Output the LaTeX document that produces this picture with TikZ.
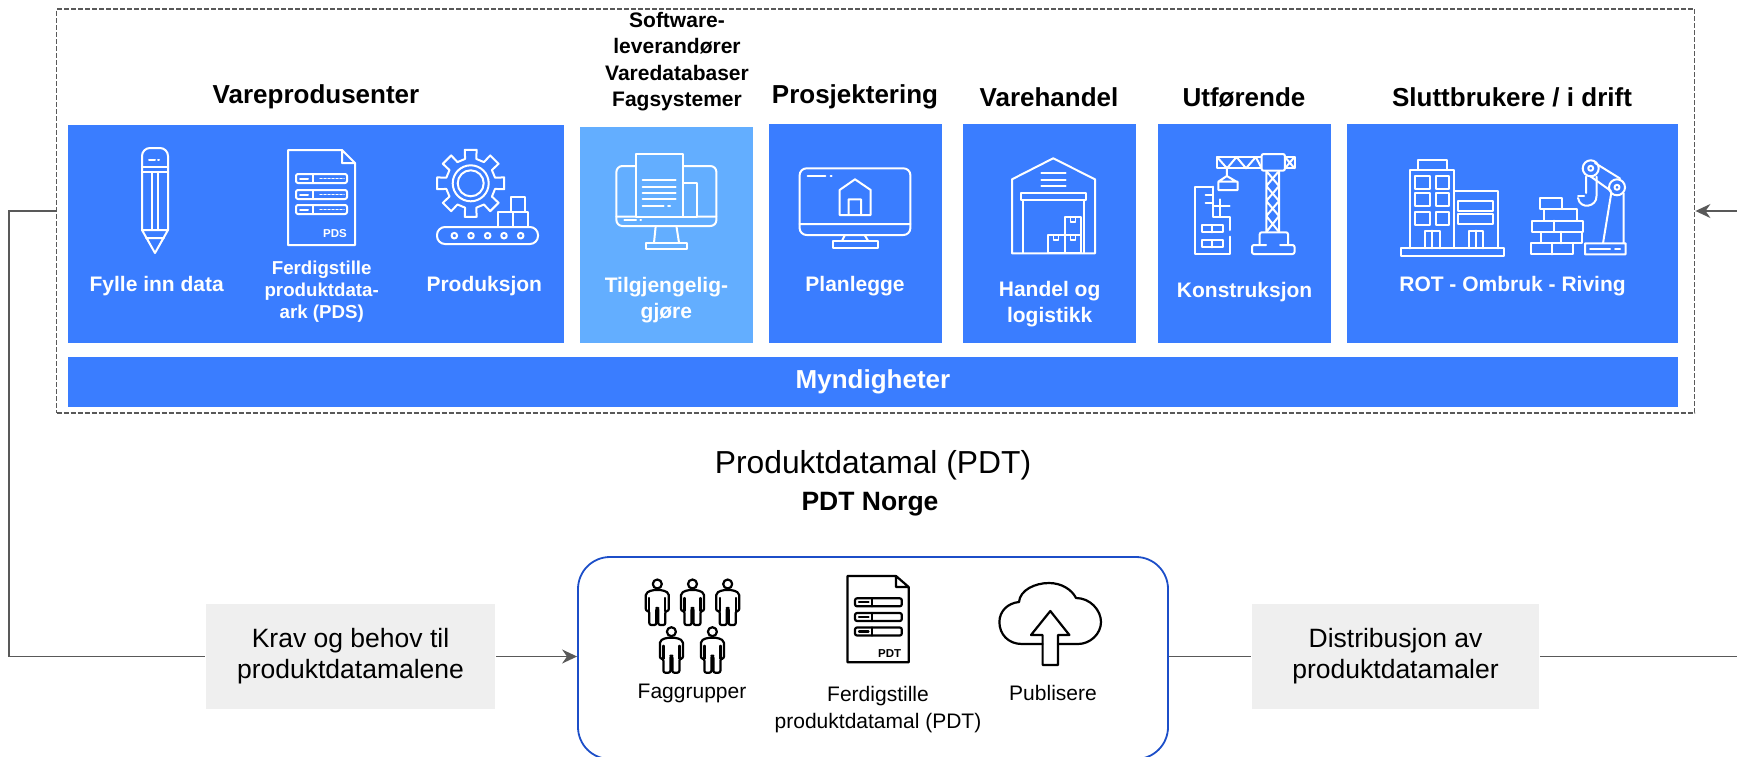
\documentclass[tikz,border=0pt]{standalone}
\usepackage{fontspec}
\setmainfont{Liberation Sans}
\usetikzlibrary{arrows.meta}
\definecolor{block_blue}{RGB}{58,125,255}
\definecolor{block_light}{RGB}{99,174,255}
\definecolor{frame_blue}{RGB}{28,78,200}
\definecolor{line_gray}{RGB}{89,89,89}
\definecolor{pale_gray}{RGB}{239,239,239}

\newcommand{\personicon}[2]{
  \draw[blackicon] (#1,#2) circle (4.5pt);
  \draw[blackicon,rounded corners=2pt] (#1-5,#2+6) -- (#1-11.5,#2+9) -- (#1-11.5,#2+27) -- (#1-8,#2+27) -- (#1-8,#2+41) -- (#1-1,#2+41) -- (#1-1,#2+24) -- (#1+1,#2+24) -- (#1+1,#2+41) -- (#1+8,#2+41) -- (#1+8,#2+27) -- (#1+11.5,#2+27) -- (#1+11.5,#2+9) -- (#1+5,#2+6) -- cycle;
  \draw[blackicon] (#1-8,#2+14) -- (#1-8,#2+27) (#1+8,#2+14) -- (#1+8,#2+27);
}

\begin{document}
\begin{tikzpicture}[x=1pt,y=-1pt,->,>={Stealth[length=15pt,width=14pt]},line width=1.6pt]
    \tikzstyle{block}=[draw=none, fill=block_blue, inner sep=0pt, text=white]
    \tikzstyle{title}=[font=\bfseries\fontsize{26}{30}\selectfont, text=black, inner sep=0pt]
    \tikzstyle{smalltitle}=[font=\bfseries\fontsize{21}{26.5}\selectfont, text=black, align=center, inner sep=0pt]
    \tikzstyle{inner}=[font=\bfseries\fontsize{21}{26}\selectfont, text=white, align=center, inner sep=0pt]
    \tikzstyle{innersmall}=[font=\bfseries\fontsize{18.7}{22.3}\selectfont, text=white, align=center, inner sep=0pt]
    \tikzstyle{pale}=[draw=none, fill=pale_gray, inner sep=0pt, font=\fontsize{26.5}{31}\selectfont, align=center, minimum height=105pt]
    \tikzstyle{plain}=[font=\fontsize{21}{27}\selectfont, align=center, inner sep=0pt]
    \tikzstyle{icon}=[-, draw=white, line width=2pt, line join=round, line cap=round]
    \tikzstyle{blackicon}=[-, draw=black, line width=2.2pt, line join=round, line cap=round]

    \useasboundingbox (0,0) rectangle (1737,756);

    \node[draw=line_gray, dash pattern=on 5pt off 2pt, line width=1.8pt, minimum width=1638pt, minimum height=404pt, inner sep=0pt] (dashbox) at (875.5,211) {};

    \node[block, minimum width=496pt, minimum height=218pt] (vare) at (316,234) {};
    \node[block, fill=block_light, minimum width=173pt, minimum height=216pt] (soft) at (666.5,235) {};
    \node[block, minimum width=173pt, minimum height=219pt] (pros) at (855.5,233.5) {};
    \node[block, minimum width=173pt, minimum height=219pt] (hand) at (1049.5,233.5) {};
    \node[block, minimum width=173pt, minimum height=219pt] (utfo) at (1244.5,233.5) {};
    \node[block, minimum width=331pt, minimum height=219pt] (slutt) at (1512.5,233.5) {};
    \node[block, minimum width=1610pt, minimum height=50pt, font=\bfseries\fontsize{26}{30}\selectfont] (mynd) at (873,382) {Myndigheter};

    \node[title] (t1) at (316,97) {Vareprodusenter};
    \node[smalltitle] (t2) at (677,61.5) {Software-\\leverandører\\Varedatabaser\\Fagsystemer};
    \node[title] (t3) at (855,97) {Prosjektering};
    \node[title] (t4) at (1049,97) {Varehandel};
    \node[title] (t5) at (1244,97) {Utførende};
    \node[title] (t6) at (1512,97) {Sluttbrukere / i drift};

    \node[inner] (l1) at (156.7,285.7) {Fylle inn data};
    \node[innersmall] (l2) at (321.7,291.7) {Ferdigstille\\produktdata-\\ark (PDS)};
    \node[inner] (l3) at (484.3,285.7) {Produksjon};
    \node[inner] (l4) at (666.4,300) {Tilgjengelig-\\gjøre};
    \node[inner] (l5) at (855,285.7) {Planlegge};
    \node[inner] (l6) at (1049.6,304) {Handel og\\logistikk};
    \node[inner] (l7) at (1244.6,291.7) {Konstruksjon};
    \node[inner] (l8) at (1512.5,285.7) {ROT - Ombruk - Riving};

    \node[font=\fontsize{31.8}{36}\selectfont, inner sep=0pt] (pdt) at (873,465) {Produktdatamal (PDT)};
    \node[font=\bfseries\fontsize{26.5}{30}\selectfont, inner sep=0pt] (norge) at (870,504) {PDT Norge};

    \node[pale, minimum width=289pt] (krav) at (350.5,656.5) {Krav og behov til\\produktdatamalene};
    \node[pale, minimum width=287pt] (dist) at (1395.5,656.5) {Distribusjon av\\produktdatamaler};
    \node[draw=frame_blue, line width=1.8pt, rounded corners=32pt, minimum width=590pt, minimum height=202pt, inner sep=0pt] (pdtbox) at (873,658) {};

    \node[plain] (f1) at (692,693) {Faggrupper};
    \node[plain] (f2) at (878,710) {Ferdigstille\\produktdatamal (PDT)};
    \node[plain] (f3) at (1053,693) {Publisere};

    \coordinate (bend) at (9,656.5);
    \coordinate (rightin) at (1737,211);
    \coordinate (rightout) at (1737,656.5);
    \draw[-,draw=line_gray] (dashbox.west) -| (bend) -- (krav.west);
    \draw[draw=line_gray] (krav.east) -- (krav.east -| pdtbox.west);
    \draw[-,draw=line_gray] (krav.east -| pdtbox.east) -- (dist.west);
    \draw[-,draw=line_gray] (dist.east) -- (rightout);
    \draw[draw=line_gray] (rightin) -- (dashbox.east);

    % pencil
    \draw[icon,rounded corners=8pt] (142,230) -- (142,148) -- (168,148) -- (168,230);
    \draw[icon] (142,230) -- (155,253) -- (168,230) -- cycle (146,238) -- (164,238);
    \draw[icon] (142,167) -- (168,167) (142,172) -- (168,172) (152,172) -- (152,230) (158,172) -- (158,230) (149,160) -- (155,160) (158,160) -- (159,160);

    % PDS sheet
    \draw[icon] (288,150) -- (342,150) -- (355,163) -- (355,245) -- (288,245) -- cycle (342,150) -- (342,163) -- (355,163);
    \foreach \y in {174,190,205}{
      \draw[icon,rounded corners=2pt] (296,\y) rectangle (347,\y+9);
      \draw[icon] (313,\y) -- (313,\y+9) (300,\y+4.5) -- (308,\y+4.5);
      \draw[icon,dotted,line width=1.5pt] (320,\y+4.5) -- (344,\y+4.5);
    }
    \node[font=\bfseries\fontsize{11.5}{13}\selectfont, text=white, inner sep=0pt] (pds) at (335,234) {PDS};

    % gear on belt
    \begin{scope}[shift={(470.7,183.3)}]
      \draw[icon] (-13:25) \foreach \a in {0,45,...,315}{ -- (\a-13:25) -- (\a-10:34) -- (\a+10:34) -- (\a+13:25)} -- cycle;
      \draw[icon] (0,0) circle (18pt) (0,0) circle (13pt);
    \end{scope}
    \draw[icon,rounded corners=8pt,fill=block_blue] (437,227) rectangle (538,244);
    \foreach \x in {454.3,471,487.7,504,520.7}{
      \draw[icon] (\x,235.7) circle (2.8pt);
    }
    \draw[icon,fill=block_blue] (498,212) rectangle (513,227) (513,212) rectangle (528,227) (511,197) rectangle (525,212);

    % monitor with document
    \draw[icon,rounded corners=6pt] (616.4,166) rectangle (716.4,226);
    \draw[icon] (616.4,216.7) -- (716.4,216.7) (655.7,226) -- (654,242.7) (676.4,226) -- (679,242.7);
    \draw[icon] (645.7,242.7) rectangle (687,249.3) (624.3,220.3) -- (636,220.3) (640.4,220.3) -- (641,220.3);
    \draw[icon,fill=block_light] (636,154) rectangle (682.5,216.7) (682.5,182.7) rectangle (697,216.7);
    \foreach \y in {180,186.7,193.3,199.3}{
      \draw[icon] (642.5,\y) -- (675.7,\y);
    }
    \draw[icon] (642.5,206) -- (663.6,206) (668,206) -- (670,206);

    % monitor with house
    \draw[icon,rounded corners=7pt] (799.6,168.3) rectangle (910.4,235);
    \draw[icon] (799.6,224) -- (910.4,224) (845,235) -- (842,240.7) (864.6,235) -- (868,240.7);
    \draw[icon] (832.5,240.7) rectangle (877.9,248) (807.5,176) -- (825.4,176) (830.7,176) -- (831.5,176);
    \draw[icon] (839.6,215) -- (839.6,190) -- (855,179.3) -- (870.7,190) -- (870.7,215) -- cycle (848.6,215) -- (848.6,199.3) -- (861,199.3) -- (861,215);

    % warehouse
    \draw[icon] (1012,253.3) -- (1012,179.3) -- (1053.2,158.3) -- (1095,179.3) -- (1095,253.3) -- cycle;
    \draw[icon] (1041.4,173.3) -- (1065.7,173.3) (1041.4,179.6) -- (1065.7,179.6) (1041.4,186) -- (1065.7,186);
    \draw[icon] (1020.7,192.7) rectangle (1086,200) (1022.9,200) -- (1022.9,253) (1083.6,200) -- (1083.6,253);
    \draw[icon] (1064.6,217.3) rectangle (1081.4,235) (1047.9,235) rectangle (1064.6,252.7) (1064.6,235) rectangle (1081.4,252.7);
    \draw[icon,line width=1.5pt] (1070.5,217.3) rectangle (1075.5,222) (1053.7,235) rectangle (1058.7,240) (1070.5,235) rectangle (1075.5,240);

    % crane and building
    \draw[icon] (1217,157) rectangle (1294.5,168.3);
    \draw[icon] (1217,157) -- (1227,168.3) -- (1236.5,157) -- (1246,168.3) -- (1255.8,157) -- (1261.6,168.3) (1285,157) -- (1294.5,168.3) (1285,168.3) -- (1294.5,157);
    \draw[icon,rounded corners=2pt,fill=block_blue] (1261.6,154) rectangle (1284.9,170.7);
    \draw[icon] (1266.3,171) -- (1266.3,232) (1279,171) -- (1279,232) (1266.3,171) -- (1279,186) -- (1266.3,201) -- (1279,216) -- (1266.3,232) (1279,171) -- (1266.3,186) -- (1279,201) -- (1266.3,216) -- (1279,232);
    \draw[icon,rounded corners=2pt] (1259.7,245) -- (1259.7,232.3) -- (1288,232.3) -- (1288,245) (1266,245) -- (1252,245) -- (1252,254) -- (1294.5,254) -- (1294.5,245) -- (1280,245);
    \draw[icon] (1226.8,168.3) -- (1226.8,176) -- (1218.3,181.7) -- (1236.5,181.7) -- (1226.8,176) (1218.3,181.7) rectangle (1237.6,190);
    \draw[icon] (1213.2,186.7) -- (1195,186.7) -- (1195,254) -- (1229.5,254) -- (1229.5,236.7) (1229.5,230) -- (1229.5,216.7) -- (1213.2,216.7) -- (1213.2,186.7);
    \draw[icon] (1205.5,195) -- (1213.2,195) (1205.5,203.3) -- (1213.2,203.3) (1219.8,199.3) -- (1219.8,216) (1213.2,206) -- (1229.5,206);
    \draw[icon] (1201.6,225) rectangle (1223,232.3) (1212.3,225) -- (1212.3,232.3) (1201.6,240) rectangle (1223,247.3) (1212.3,240) -- (1212.3,247.3);

    % buildings
    \draw[icon] (1401,248.3) rectangle (1503.6,255.7) (1409.5,248.3) -- (1409.5,170) -- (1454.4,170) -- (1454.4,248.3) (1418.4,170) -- (1418.4,160) -- (1446.7,160) -- (1446.7,170);
    \foreach \y in {175.7,193.3,211.7}{
      \draw[icon] (1415.3,\y) rectangle (1430,\y+13) (1435.8,\y) rectangle (1449.4,\y+13);
    }
    \draw[icon] (1425,248.3) -- (1425,230.7) -- (1439.7,230.7) -- (1439.7,248.3) (1432.3,230.7) -- (1432.3,248.3);
    \draw[icon] (1454.4,191) -- (1497.8,191) -- (1497.8,248.3) (1458.3,201) rectangle (1493,211) (1458.3,214.3) rectangle (1493,224.3);
    \draw[icon] (1468.8,248.3) -- (1468.8,230.7) -- (1483,230.7) -- (1483,248.3) (1476,230.7) -- (1476,248.3);

    % bricks and robot arm
    \draw[icon] (1540.4,198.3) rectangle (1561.7,209.3) (1543.5,209.3) rectangle (1577,220.7) (1531.9,220.7) rectangle (1583,231.7) (1541,231.7) rectangle (1582,243.3) (1530.7,243.3) rectangle (1573.3,254.3);
    \draw[icon] (1554,220.7) -- (1554,231.7) (1561,231.7) -- (1561,243.3) (1552,243.3) -- (1552,254.3);
    \draw[icon] (1585,243.3) rectangle (1625.6,254.3) (1603,243.3) -- (1611.2,193.3) (1623.6,193.3) -- (1623.6,243.3);
    \draw[icon] (1590,249) -- (1610,249) (1615,249) -- (1620,249);
    \draw[icon] (1595,163) -- (1620,178.5) (1590,176) -- (1611,191);
    \draw[icon] (1590.7,168.3) circle (8pt) (1590.7,168.3) circle (2.5pt) (1617,187.3) circle (8pt) (1617,187.3) circle (2.5pt);
    \draw[icon] (1586,176.7) -- (1586,193) (1596.5,176.7) -- (1596.5,196) .. controls (1597,207) and (1580,210) .. (1578,198);
    \draw[icon] (1578,196) -- (1584,196);

    % people
    \personicon{657.3}{584}
    \personicon{692.5}{584}
    \personicon{727.7}{584}
    \personicon{671.4}{631.7}
    \personicon{712.4}{631.7}

    % PDT sheet
    \draw[blackicon] (847.5,576) -- (896,576) -- (908.7,587) -- (908.7,662.3) -- (847.5,662.3) -- cycle (896,576) -- (896,587) -- (908.7,587);
    \foreach \y in {598.3,613,627.5}{
      \draw[blackicon,rounded corners=2pt] (855,\y) rectangle (901.8,\y+8);
      \draw[blackicon] (872.3,\y) -- (872.3,\y+8) (859,\y+4) -- (868.5,\y+4);
    }
    \node[font=\bfseries\fontsize{11.5}{13}\selectfont, inner sep=0pt] (pdtmark) at (889.6,653.3) {PDT};

    % cloud with arrow
    \draw[blackicon] (1042.6,644) -- (1022,644) .. controls (1008,644) and (999.4,634) .. (999.4,622) .. controls (999.4,611) and (1008,603) .. (1019,602) .. controls (1020,590) and (1035,583) .. (1049,583) .. controls (1062,583) and (1072,590) .. (1076,598) .. controls (1090,598) and (1101,610) .. (1101,622) .. controls (1101,634) and (1090,644) .. (1078,644) -- (1058,644);
    \draw[blackicon] (1050.3,611) -- (1069.4,635) -- (1058,635) -- (1058,665) -- (1042.6,665) -- (1042.6,635) -- (1031,635) -- cycle;
  \end{tikzpicture}
\end{document}
